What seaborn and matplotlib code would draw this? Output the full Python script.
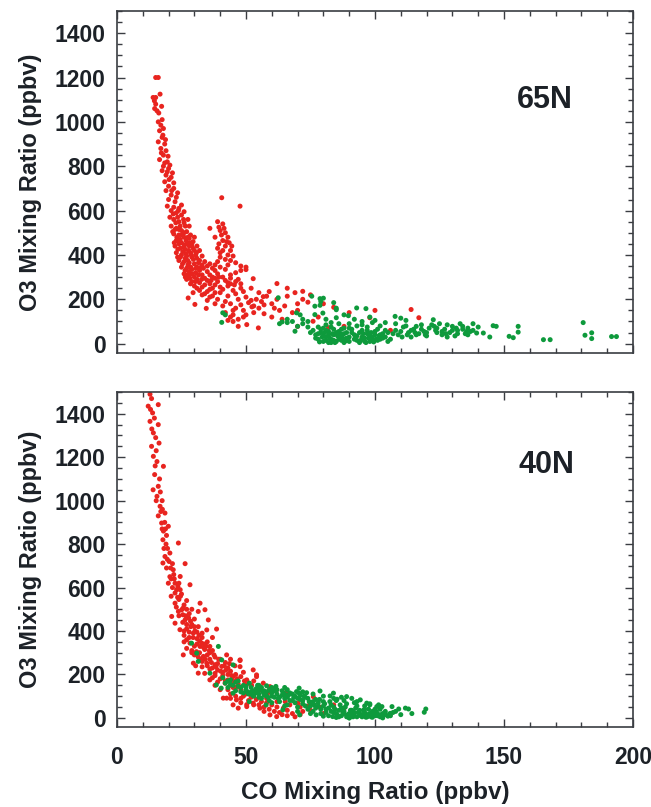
import numpy as np
import pandas as pd
import matplotlib
matplotlib.use("Agg")
import matplotlib.pyplot as plt
from matplotlib.ticker import MultipleLocator
import seaborn as sns

# CO / O3 pairs (ppbv)
red_65n = np.array([
    (15, 1200), (16, 1200), (14, 1110), (14.5, 1095), (15, 1080), (16.7, 1125), (17.3, 1070), (15.5, 1050),
    (16, 1000), (17, 985), (16.5, 960), (18, 970), (17.5, 930), (16, 910), (18.5, 900), (17, 880),
    (19, 870), (18, 850), (16.5, 830), (19.5, 820), (18, 800), (20, 790), (17.5, 780), (19, 760),
    (21, 750), (18.5, 730), (20, 710), (22, 700), (19, 690), (21, 670), (23, 660), (20, 650),
    (22.5, 640), (19.5, 620), (24, 610), (21, 600), (23, 590), (25, 580), (20.5, 570), (22, 560),
    (24, 550), (26, 545), (21, 530), (23, 520), (25, 510), (27, 505), (22, 495), (24, 490),
    (26, 480), (28, 475), (23, 465), (25, 455), (27, 450), (29, 445), (22.5, 440), (24.5, 430),
    (26.5, 425), (30, 420), (23, 410), (25, 400), (27, 395), (29, 390), (31, 385), (24, 375),
    (26, 370), (28, 365), (30, 360), (33, 355), (25, 345), (27, 340), (29, 335), (32, 330),
    (35, 325), (26, 315), (28, 305), (30, 300), (34, 295), (37, 300), (27, 290), (29, 280),
    (32, 275), (36, 270), (39, 280), (42, 285), (44, 295), (30, 260), (33, 255), (37, 250),
    (40, 255), (43, 260), (32, 240), (35, 235), (38, 230), (45, 240), (48, 250),
    (40.6, 658), (47.7, 620), (39, 550), (41, 540), (40, 510), (42, 500), (43, 480), (41, 465),
    (39.5, 450), (42, 440), (44, 420), (40, 410), (43, 400), (45, 395), (38, 480), (36, 520),
    (35, 350), (37, 340), (38, 330), (40, 345), (42, 335), (36, 310), (39, 315), (41, 300),
    (44, 310), (46, 320), (48, 330),
    (33, 220), (36, 210), (39, 200), (42, 190), (44, 180), (47, 200), (50, 210), (52, 195),
    (46, 160), (49, 150), (53, 170), (42, 140), (44, 120), (43, 105), (45, 100), (47, 110),
    (50, 130), (55, 160), (58, 214), (59, 235), (62, 271), (66, 214), (72, 236), (52.8, 293),
    (50, 334), (56, 190), (60, 180), (63, 150), (65, 170), (68, 140), (70, 150), (72, 200),
    (74, 187), (76, 101), (70, 78), (82, 72), (84, 164), (88, 78), (95, 27), (98, 117),
    (106, 60), (114, 154), (117, 117), (60, 120), (64, 110), (52, 250), (55, 230), (48, 270),
    (46, 280), (27.6, 206), (30.2, 177), (34.6, 159), (47, 78), (50.3, 86), (54.8, 71),
    (52.3, 166), (56.7, 212),
    (17.5, 1010), (16.2, 1040), (15, 1110), (14.6, 1060), (17.8, 940), (18.8, 920), (17.2, 860),
    (19.8, 845), (18.5, 815), (20.5, 805), (19.5, 775), (21.5, 770), (20.2, 740), (22, 725),
    (21.2, 690), (23.5, 680), (22, 615), (25, 625), (23.5, 570), (26, 595), (27.5, 560),
    (24.5, 530), (28, 530), (22.5, 515), (26, 500), (28.5, 490), (30, 480), (24.5, 470),
    (26.8, 465), (29.5, 460), (31, 440), (24, 450), (28, 440), (32, 420), (25.5, 415),
    (28.5, 410), (30.5, 400), (33, 395), (26.5, 385), (32, 375), (34, 370), (23.5, 390),
    (36, 360), (38, 355), (27.5, 355), (31, 345), (33.5, 340), (28, 325), (30.5, 320),
    (33, 310), (26.5, 300), (31, 290), (35, 285), (28.5, 270), (34, 265), (38, 265),
    (31, 250), (36, 245), (41, 245), (34, 225), (37, 215), (40, 230), (29.5, 230),
    (43, 215), (46, 225), (49, 235), (44, 270), (47, 290), (38, 295),
    (39.5, 525), (41.5, 520), (40.5, 490), (42.5, 460), (39, 430), (41, 420), (43.5, 455),
    (44.5, 440), (40, 390), (42, 380), (44, 375), (46, 365), (48, 350), (50, 345), (39, 370),
    (43, 355), (35, 195), (38, 180), (41, 170), (45, 150), (48, 175), (51, 185), (54, 200),
    (57, 175), (61, 160), (45, 130), (49, 120), (53, 140), (57, 135), (62, 200), (66, 250),
    (69, 230), (75, 220), (80, 180), (70, 180), (78, 120), (90, 140), (100, 150),
    (21.8, 585), (23.8, 600), (22.8, 545), (25.8, 560), (21.6, 505), (24, 515), (26.5, 530),
    (23.2, 480), (25.2, 490), (27.5, 480), (22.2, 455), (24.2, 460), (26.2, 445), (28.2, 455),
    (23.6, 425), (25.8, 435), (27.8, 420), (29.5, 430), (24.6, 390), (26.8, 405), (28.8, 400),
    (30.8, 410), (25.4, 360), (27.4, 375), (29.6, 380), (31.6, 365), (26.4, 330), (28.6, 345),
    (30.6, 340), (32.6, 345), (27.2, 310), (29.2, 315), (31.6, 310), (28.2, 295), (30.4, 280),
    (32.8, 290), (36.5, 285), (39.5, 300), (43, 275), (45.5, 265),
])

green_65n = np.array([
    (41, 139), (40.6, 96), (42, 130), (62.5, 207), (69.6, 139), (63, 90), (64, 98), (66, 95),
    (68, 100), (69, 56), (70, 78), (72, 110), (75.5, 214), (78.7, 203), (80, 205), (78.7, 173),
    (76.7, 169), (76.7, 131), (79.8, 138), (85, 153), (85, 117), (81, 110), (83, 95),
    (76, 60), (77, 40), (78, 20), (79, 50), (80, 10), (80, 70), (81, 30), (82, 5),
    (82, 55), (83, 20), (84, 40), (84, 65), (85, 10), (86, 30), (86, 55), (87, 15),
    (88, 45), (88, 70), (89, 25), (78, 75), (81, 85), (86, 90), (74, 75), (75, 50),
    (92.9, 161), (96.5, 158), (89.7, 126), (92, 110), (95, 100), (98, 120), (100, 105),
    (91, 50), (92, 20), (93, 35), (94, 5), (95, 60), (96, 25), (97, 45), (98, 10),
    (99, 30), (100, 55), (101, 15), (102, 40), (103, 25), (104, 60), (105, 10), (90, 70),
    (93, 80), (97, 75), (102, 80),
    (107.8, 123), (110, 115), (112, 105), (116, 78), (122.6, 108), (123, 78), (130, 78), (134, 78),
    (108, 60), (109, 40), (111, 75), (113, 50), (114, 30), (115, 65), (117, 45), (118, 85),
    (119, 55), (120, 35), (121, 70), (124, 50), (125, 90), (126, 40), (127, 65), (128, 85),
    (129, 50), (131, 35), (132, 60), (133, 90), (135, 45), (136, 70), (137, 55), (138, 90),
    (139.4, 48), (142, 48), (145.8, 81), (147, 78), (144.5, 30), (153.6, 27), (155.5, 78),
    (155.5, 52), (152, 33), (165.3, 18), (167.9, 18), (180.7, 95), (181.4, 38), (184, 49),
    (184, 23), (191.7, 32), (193.6, 32),
    (77, 25), (78, 45), (79, 65), (80, 35), (81, 15), (81, 60), (82, 40), (83, 5), (83, 75),
    (84, 15), (85, 50), (86, 20), (87, 35), (87, 65), (88, 5), (89, 50), (90, 30), (90, 10),
    (91, 65), (92, 40), (93, 15), (94, 50), (95, 30), (96, 10), (97, 60), (98, 35), (99, 15),
    (100, 40), (101, 65), (102, 20), (103, 45), (104, 30), (105, 50), (106, 20), (107, 45),
    (108, 90), (110, 55), (112, 80), (114, 60), (116, 40), (118, 65), (120, 50), (122, 85),
    (124, 70), (126, 55), (128, 30), (130, 60), (132, 45), (134, 65), (136, 40), (138, 60),
    (140, 75), (72, 90), (74, 100), (71, 130), (66, 110), (85, 160), (84, 185), (79, 190),
    (88, 130), (90, 90), (95, 85), (99, 95), (104, 95),
    (78.5, 8), (79.5, 30), (80.5, 50), (82.5, 25), (83.5, 45), (84.5, 5), (85.5, 35), (86.5, 45),
    (87.5, 25), (88.5, 12), (94.5, 15), (95.5, 45), (96.5, 5), (97.5, 25), (98.5, 50),
    (99.5, 8), (100.5, 20), (101.5, 35), (110.5, 30), (112.5, 40), (115.5, 50), (119.5, 40),
    (123.5, 60), (127.5, 45), (131.5, 70), (135.5, 55),
])

red_40n = np.array([
    (12.8, 1490), (13.4, 1470), (12.1, 1435), (16, 1442), (13.8, 1404), (12.8, 1365), (16, 1350),
    (14.1, 1312), (15, 1290), (13.4, 1250), (16.3, 1265), (14.1, 1204), (15.5, 1180), (18, 1158),
    (14.6, 1120), (16, 1066), (14, 1050), (15.5, 1020), (16.7, 974), (17.5, 1000), (18.6, 943),
    (16, 930), (17.3, 897), (19.9, 882), (18, 860), (17.8, 820), (19, 800), (23.8, 805),
    (18.6, 743), (20.5, 759), (17.8, 713), (19.5, 730), (21.8, 682), (26.4, 710), (24.5, 651),
    (22, 660), (19.9, 620), (21, 640), (23.1, 590), (28.3, 613), (25, 570), (21, 560),
    (22.5, 528), (24, 545), (27, 540), (25.1, 498), (23, 510), (21.2, 467), (26.4, 451),
    (24, 470), (32.2, 528), (34.1, 498), (31.5, 490), (28, 480), (30, 455), (27, 430),
    (24.4, 406), (29.6, 390), (26, 380), (31, 365), (28.3, 344), (32.2, 329), (38.6, 409),
    (35.4, 451), (34.8, 405), (22.5, 436), (25.7, 290), (33.5, 283), (34.8, 252), (31.5, 206),
    (40.6, 237), (45.7, 240), (47.7, 264), (41.9, 160), (36, 175), (42.5, 91), (50.3, 61),
    (54.1, 198), (59.3, 144), (29.6, 252), (36, 329), (42.5, 290), (47.7, 267), (47.7, 236),
    (52.8, 221), (54.1, 190), (50.3, 175), (56.7, 160), (61.9, 129), (65.8, 121), (41.2, 91),
    (46.3, 83), (50.3, 52), (55.4, 45), (59.3, 14), (61.9, 6), (52.8, 68), (64.5, 45),
    (70.2, 68), (78.7, 49), (65.2, 75), (76.1, 98),
    (27, 320), (29, 310), (30, 290), (32, 300), (34, 315), (36, 300), (38, 280), (40, 270),
    (33, 260), (35, 240), (37, 230), (39, 220), (41, 210), (43, 200), (45, 190), (38, 195),
    (40, 180), (42, 170), (44, 150), (46, 140), (48, 130), (38, 150), (40, 130), (44, 110),
    (46, 100), (48, 90), (50, 110), (52, 95), (54, 85), (56, 75), (58, 70), (60, 60),
    (62, 50), (57, 30), (63, 25), (66, 35), (68, 20), (72, 30), (74, 55), (45, 60),
    (47, 45), (35, 350), (37, 370), (33, 390), (30, 420), (36, 270), (39, 250), (43, 230),
    (49, 210), (51, 160), (44, 270), (31, 340), (26, 350), (28, 370),
    (13, 1420), (14.5, 1380), (13.5, 1330), (15.2, 1230), (14.8, 1160), (16.5, 1100), (15.2, 1000),
    (17, 950), (18.5, 900), (17.5, 870), (19.2, 840), (18.2, 780), (20.2, 720), (19.2, 690),
    (21.5, 710), (20.5, 650), (22.5, 620), (21.5, 600), (24, 620), (22.5, 575), (24.5, 590),
    (23.5, 555), (26, 520), (23.8, 490), (27, 500), (25.5, 475), (29, 500), (28.5, 445),
    (25.5, 440), (27, 410), (29, 430), (31.5, 420), (26, 400), (28, 395), (31, 395), (33, 370),
    (27, 360), (29.5, 370), (32, 355), (30, 330), (34, 340), (33.5, 325), (29, 300), (31.5, 280),
    (35, 290), (37, 310), (30.5, 240), (33, 235), (36, 225), (38, 245), (42, 255), (34, 205),
    (38, 205), (41, 195), (37, 185), (44, 215), (46, 200), (48, 190), (43, 175), (39, 165),
    (45, 170), (47, 155), (50, 150), (53, 170), (43, 130), (45, 140), (49, 100), (51, 80),
    (53, 60), (55, 60), (57, 50), (59, 40), (61, 30), (64, 15), (66, 10), (69, 5), (71, 15),
    (48, 70), (44, 90), (58, 90), (62, 75), (67, 60), (71, 50), (75, 35), (80, 20), (84, 60),
    (88, 45),
    (16.8, 1040), (17.6, 960), (18.8, 870), (19.6, 780), (20.8, 690), (22.2, 640), (23.6, 605),
    (24.6, 560), (25.6, 505), (26.6, 470), (27.8, 460), (28.6, 420), (30.2, 400), (31.8, 380),
    (32.8, 345), (34.6, 330), (35.8, 310), (37.6, 290), (39.4, 270), (41.6, 240), (43.6, 250),
    (30.8, 305), (32.4, 270), (34.2, 270), (36.6, 255), (38.4, 235), (40.2, 215), (42.2, 220),
    (44.4, 195), (46.6, 180), (49.4, 170), (52.2, 150), (55.5, 130), (58.5, 115),
])

green_40n = np.array([
    (28.9, 344), (30.9, 298), (31.5, 260), (36, 206), (39.3, 329), (40.6, 267), (45, 244),
    (40.4, 137), (38.5, 152),
    (41, 185), (44, 175), (47, 170), (51.3, 160), (55, 150), (58, 148), (61.6, 145), (65, 140),
    (70.6, 137), (73.5, 116), (78.7, 124), (82.6, 101), (83.9, 114), (89, 98), (94.3, 83),
    (100.7, 52), (105.9, 21),
    (42, 160), (43, 140), (45, 150), (46, 125), (48, 140), (49, 115), (50, 130), (52, 120),
    (53, 100), (54, 135), (55, 110), (56, 90), (57, 125), (58, 100), (59, 80), (60, 115),
    (61, 95), (62, 130), (63, 75), (64, 105), (65, 90), (66, 60), (67, 115), (68, 80),
    (69, 100), (70, 50), (71, 85), (72, 65), (73, 95), (74, 40), (75, 70), (76, 30),
    (77, 85), (78, 55), (79, 20), (80, 75), (81, 40), (82, 10), (83, 60), (84, 25),
    (85, 80), (86, 5), (87, 45), (88, 20), (89, 65), (90, 0), (91, 35), (92, 10),
    (93, 55), (94, 20), (95, 5), (96, 40), (97, 15), (98, 60), (99, 3), (100, 25),
    (101, 10), (102, 40), (103, 0), (104, 15),
    (45, 114), (51.3, 75), (57.8, 60), (64.3, 37), (70.8, 14), (77.2, 14), (83.6, 6),
    (90.1, 0), (96.5, 3),
    (69.6, 121), (85.3, 86), (93, 75), (96.8, 68), (101.4, 60), (102.7, 52), (106.6, 52),
    (109.2, 41), (111.8, 45), (114.3, 20), (113, 41), (119.1, 26), (119.7, 41), (104, 20),
    (98, 65), (91, 90), (87, 95), (108, 30), (110, 15),
    (43, 170), (44, 155), (46, 165), (47, 145), (48, 120), (49, 150), (50, 145), (51, 110),
    (52, 140), (53, 125), (54, 115), (55, 130), (56, 140), (57, 105), (58, 120), (59, 130),
    (60, 100), (61, 125), (62, 110), (63, 95), (64, 125), (65, 110), (66, 95), (67, 80),
    (68, 110), (69, 70), (70, 90), (71, 105), (72, 80), (73, 55), (74, 90), (75, 55),
    (76, 75), (77, 45), (78, 70), (79, 40), (80, 55), (81, 25), (82, 45), (83, 30),
    (84, 50), (85, 20), (86, 35), (87, 10), (88, 30), (89, 5), (90, 20), (91, 15),
    (92, 25), (93, 5), (94, 35), (95, 15), (96, 25), (97, 5), (98, 20), (99, 30),
    (100, 10), (101, 20), (102, 5), (103, 20), (104, 30), (105, 8), (106, 10), (107, 25),
    (60, 140), (66, 130), (72, 120), (76, 110), (80, 100), (84, 90), (88, 80), (92, 70),
    (96, 55), (100, 40), (55, 95), (60, 70), (65, 55), (70, 30), (75, 20), (80, 8), (85, 2),
    (50.5, 120), (52.5, 105), (54.5, 150), (56.5, 120), (58.5, 95), (60.5, 130), (62.5, 90),
    (64.5, 115), (66.5, 105), (68.5, 95), (70.5, 115), (72.5, 100), (74.5, 75), (76.5, 60),
    (78.5, 85), (80.5, 65), (82.5, 75), (84.5, 40), (86.5, 60), (88.5, 50), (90.5, 35),
    (92.5, 45), (94.5, 10), (96.5, 15), (98.5, 5), (100.5, 30), (102.5, 15), (85.5, 12),
    (87.5, 28), (89.5, 15), (91.5, 5), (93.5, 25), (95.5, 35), (97.5, 40), (99.5, 18),
])

panels = ["65N", "40N"]

RED = "#e8241f"
GREEN = "#0e9a3c"
INK = "#1c2127"

sns.set_style("ticks")
plt.rcParams["font.family"] = ["Liberation Sans", "DejaVu Sans"]
plt.rcParams["font.weight"] = "bold"
plt.rcParams["axes.labelweight"] = "bold"

fig = plt.figure(figsize=(6.51, 8.07), dpi=100)
ax1 = fig.add_axes([0.1797, 0.5626, 0.7926, 0.4238])
ax2 = fig.add_axes([0.1797, 0.0991, 0.7926, 0.4151])

sets = [(ax1, red_65n, green_65n), (ax2, red_40n, green_40n)]
for (ax, red, green), name in zip(sets, panels):
    df = pd.concat([
        pd.DataFrame({"co": red[:, 0], "o3": red[:, 1], "grp": "red"}),
        pd.DataFrame({"co": green[:, 0], "o3": green[:, 1], "grp": "green"}),
    ])
    sns.scatterplot(data=df, x="co", y="o3", hue="grp",
                    palette={"red": RED, "green": GREEN},
                    s=13, linewidth=0, legend=False, ax=ax)
    ax.set_xlim(0, 200)
    ax.set_ylim(-42, 1500)
    ax.xaxis.set_major_locator(MultipleLocator(50))
    ax.xaxis.set_minor_locator(MultipleLocator(10))
    ax.yaxis.set_major_locator(MultipleLocator(200))
    ax.yaxis.set_minor_locator(MultipleLocator(50))
    ax.tick_params(which="both", direction="in", top=True, right=True,
                   color="#3a3d42", width=1.0)
    ax.tick_params(which="major", length=6)
    ax.tick_params(which="minor", length=3.5)
    ax.tick_params(axis="y", labelsize=16.5, labelcolor=INK, pad=8)
    ax.tick_params(axis="x", labelsize=16.5, labelcolor=INK, pad=14)
    for sp in ax.spines.values():
        sp.set_linewidth(1.2)
        sp.set_color("#3a3d42")
    ax.set_ylabel("O3 Mixing Ratio (ppbv)", fontsize=17, color=INK, labelpad=9)
    ax.set_xlabel("")

ax1.tick_params(axis="x", labelbottom=False)
ax2.set_xlabel("CO Mixing Ratio (ppbv)", fontsize=17.5, color=INK, labelpad=8)

ax1.text(0.829, 0.74, "65N", transform=ax1.transAxes, fontsize=22,
         fontweight="bold", color=INK, ha="center", va="center")
ax2.text(0.833, 0.782, "40N", transform=ax2.transAxes, fontsize=22,
         fontweight="bold", color=INK, ha="center", va="center")

fig.savefig("out.png", dpi=100)
